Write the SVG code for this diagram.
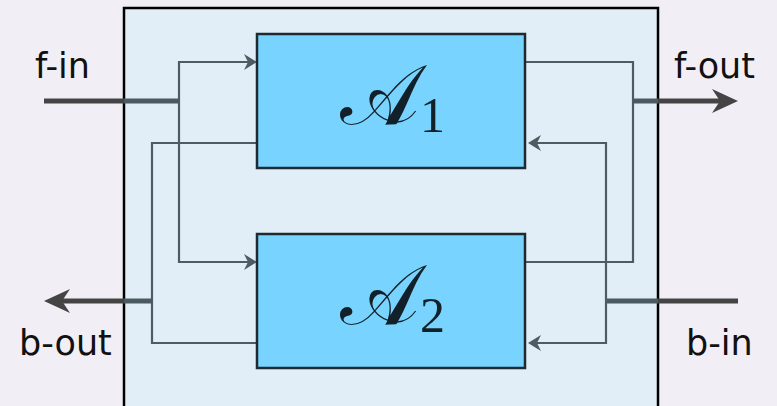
<svg xmlns="http://www.w3.org/2000/svg" width="777" height="406" viewBox="0 0 777 406">
  <style>
    .thin { fill: none; stroke: #4f5b61; stroke-width: 2.2; }
    .thick { fill: none; stroke: #444; stroke-width: 5; }
    .thick-in { fill: none; stroke: #4b5a60; stroke-width: 5; }
    .block { fill: #78d4fe; stroke: #1e2a30; stroke-width: 2.5; }
    .port { font-family: "DejaVu Sans", sans-serif; font-size: 35px; fill: #111; }
    .sym { font-family: "DejaVu Serif", "Liberation Serif", serif; font-size: 84px; fill: #12202a; }
    .sub { font-family: "Liberation Serif", serif; font-size: 50px; fill: #12202a; }
  </style>
  <defs>
    <marker id="tip" markerUnits="userSpaceOnUse" viewBox="-14 -9 16 18" refX="-5" refY="0" markerWidth="16" markerHeight="18" orient="auto">
      <path d="M0,0 L-13,-8 L-9,0 L-13,8 Z" fill="#4f5b61"/>
    </marker>
    <marker id="bigtip" markerUnits="userSpaceOnUse" viewBox="-27 -14 30 28" refX="-12" refY="0" markerWidth="30" markerHeight="28" orient="auto">
      <path d="M0,0 L-26,-12 L-18,0 L-26,12 Z" fill="#444"/>
    </marker>
  </defs>

  <!-- page background -->
  <rect x="0" y="0" width="777" height="406" fill="#f1eff5"/>

  <!-- enclosing system box -->
  <g id="system">
    <rect x="124" y="8" width="534" height="410" fill="#e1eef8" stroke="#000" stroke-width="2.5"/>
  </g>

  <g id="connectors">
    <!-- forward input, split to both blocks -->
    <line class="thick" x1="44" y1="101" x2="124" y2="101"/>
    <line class="thick-in" x1="124" y1="101" x2="179" y2="101"/>
    <path class="thin" d="M179,101 V62 H252" marker-end="url(#tip)"/>
    <path class="thin" d="M179,101 V262 H252" marker-end="url(#tip)"/>

    <!-- backward outputs merged to b-out -->
    <path class="thin" d="M257,143 H152 V343 H257"/>
    <line class="thick-in" x1="152" y1="301" x2="124" y2="301"/>
    <line class="thick" x1="124" y1="301" x2="56" y2="301" marker-end="url(#bigtip)"/>

    <!-- forward outputs merged to f-out -->
    <path class="thin" d="M525,62 H633 V262 H525"/>
    <line class="thick-in" x1="633" y1="101" x2="658" y2="101"/>
    <line class="thick" x1="658" y1="101" x2="726" y2="101" marker-end="url(#bigtip)"/>

    <!-- backward input, split to both blocks -->
    <line class="thick" x1="738" y1="301" x2="658" y2="301"/>
    <line class="thick-in" x1="658" y1="301" x2="606" y2="301"/>
    <path class="thin" d="M606,301 V143 H533" marker-end="url(#tip)"/>
    <path class="thin" d="M606,301 V343 H533" marker-end="url(#tip)"/>
  </g>

  <g id="A1">
    <rect class="block" x="257" y="34" width="268" height="134"/>
    <text class="sym" x="340" y="124">𝒜</text>
    <text class="sub" x="420" y="132">1</text>
  </g>

  <g id="A2">
    <rect class="block" x="257" y="234" width="268" height="134"/>
    <text class="sym" x="340" y="324">𝒜</text>
    <text class="sub" x="420" y="332">2</text>
  </g>

  <g id="labels">
    <text class="port" x="35" y="78">f-in</text>
    <text class="port" x="674" y="78">f-out</text>
    <text class="port" x="19" y="355">b-out</text>
    <text class="port" x="686" y="355">b-in</text>
  </g>
</svg>
